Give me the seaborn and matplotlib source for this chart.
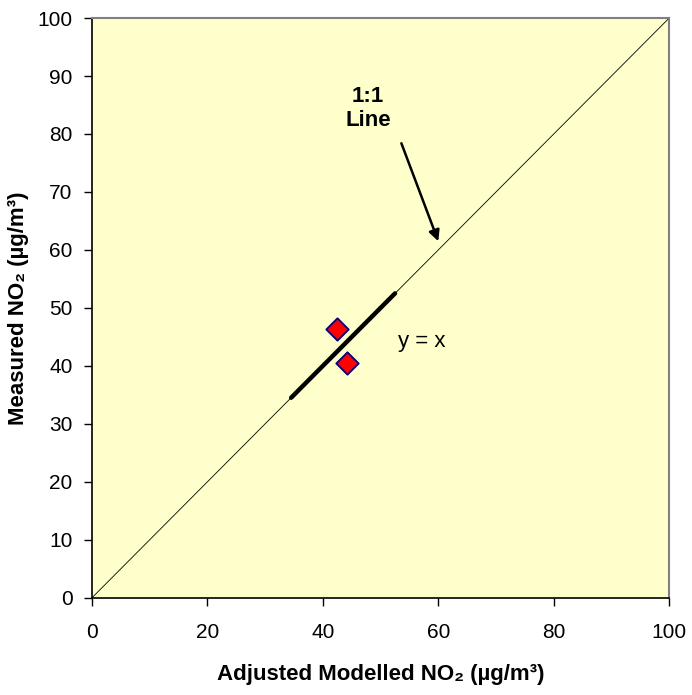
import matplotlib
matplotlib.use('Agg')
import matplotlib.pyplot as plt
import seaborn as sns
import pandas as pd

# data
modelled = [42.5, 44.2]
measured = [46.4, 40.5]
one_to_one = [0, 100]
fit_range = [34.5, 52.5]
ticks = [0, 10, 20, 30, 40, 50, 60, 70, 80, 90, 100]
xticks = [0, 20, 40, 60, 80, 100]

sns.set_style("ticks")
plt.rcParams['font.family'] = ['Liberation Sans', 'DejaVu Sans']
for key in ['text.color', 'axes.labelcolor', 'xtick.color', 'ytick.color']:
    plt.rcParams[key] = 'black'

fig, ax = plt.subplots(figsize=(6.92, 6.95), dpi=100)
fig.subplots_adjust(left=0.133, right=0.967, top=0.974, bottom=0.14)
ax.set_facecolor('#FFFFCC')

# 1:1 diagonal and the short thick segment
sns.lineplot(x=one_to_one, y=one_to_one, ax=ax, color='black', linewidth=0.6)
sns.lineplot(x=fit_range, y=fit_range, ax=ax, color='black', linewidth=3.2,
             solid_capstyle='round')

pts = pd.DataFrame({'modelled': modelled, 'measured': measured})
sns.scatterplot(data=pts, x='modelled', y='measured', ax=ax, marker='D', s=130,
                color='#FF0000', edgecolor='#000080', linewidth=1.3, zorder=5)

ax.annotate('', xy=(60.0, 61.5), xytext=(53.6, 78.4),
            arrowprops=dict(arrowstyle='-|>', color='black', lw=1.8,
                            mutation_scale=16, shrinkA=0, shrinkB=0))
ax.text(47.8, 84.4, '1:1\nLine', ha='center', va='center', fontsize=16,
        fontweight='bold', linespacing=1.15)
ax.text(53.0, 44.2, 'y = x', ha='left', va='center', fontsize=16)

ax.set_xlim(0, 100)
ax.set_ylim(0, 100)
ax.set_xticks(xticks)
ax.set_yticks(ticks)
ax.tick_params(axis='both', labelsize=15, length=6, width=1, color='black')
ax.tick_params(axis='y', pad=8)
ax.tick_params(axis='x', pad=12)

ax.set_xlabel('Adjusted Modelled NO\u2082 (\u00b5g/m\u00b3)', fontsize=16,
              fontweight='bold', labelpad=16)
ax.set_ylabel('Measured NO\u2082 (\u00b5g/m\u00b3)', fontsize=16,
              fontweight='bold', labelpad=6)

for side in ['left', 'bottom']:
    ax.spines[side].set_color('black')
    ax.spines[side].set_linewidth(1.2)
for side in ['top', 'right']:
    ax.spines[side].set_visible(True)
    ax.spines[side].set_color('#808080')
    ax.spines[side].set_linewidth(1.5)

fig.savefig('out.png', dpi=100)
plt.close(fig)
